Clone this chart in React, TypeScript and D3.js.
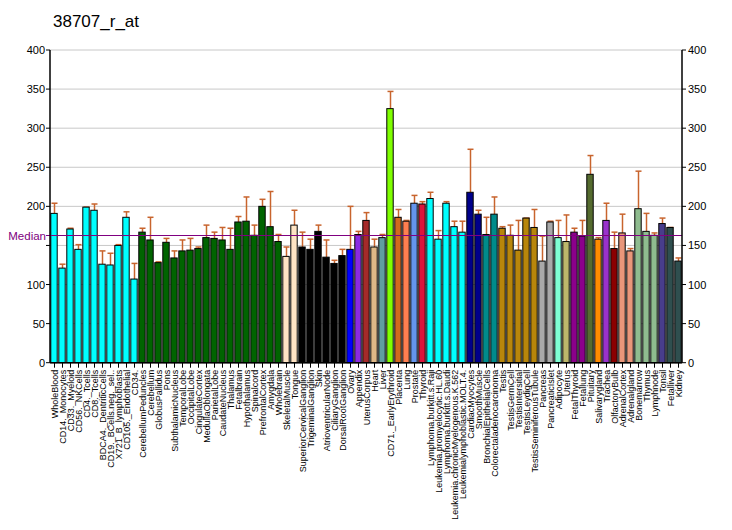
import React from "react";
import * as d3 from "d3";

const title = "38707_r_at";

const tissues = [
  "WholeBlood", "CD14._Monocytes", "CD33._Myeloid", "CD56._NKCells", "CD4._Tcells", "CD8._Tcells",
  "BDCA4._DentriticCells", "CD19._BCells.neg._sel..", "X721_B_lymphoblasts", "CD105._Endothelial", "CD34.",
  "CerebellumPeduncles", "Cerebellum", "GlobusPallidus", "Pons", "SubthalamicNucleus", "TemporalLobe",
  "OccipitalLobe", "CingulateCortex", "MedullaOblongata", "ParietalLobe", "CaudateNucleus", "Thalamus",
  "Fetalbrain", "Hypothalamus", "Spinalcord", "PrefrontalCortex", "Amygdala", "Wholebrain",
  "SkeletalMuscle", "Tongue", "SuperiorCervicalGanglion", "TrigeminalGanglion", "Skin",
  "AtrioventricularNode", "CiliaryGanglion", "DorsalRootGanglion", "Ovary", "Appendix", "UterusCorpus",
  "Heart", "Liver", "CD71._EarlyErythroid", "Placenta", "Lung", "Prostate", "Thyroid",
  "Lymphoma.burkitt.s.Raji", "Leukemia.promyelocytic.HL.60", "Lymphoma.burkitt.s.Daudi",
  "Leukemia.chronicMyelogenous.K.562", "Leukemialymphoblastic.MOLT.4.", "CardiacMyocytes", "SmoothMuscle",
  "BronchialEpithelialCells", "Colorectaladenocarcinoma", "Testis", "TestisGermCell", "TestisIntersitial",
  "TestisLeydigCell", "TestisSeminiferousTubule", "Pancreas", "PancreaticIslet", "Adipocyte", "Uterus",
  "FetalThyroid", "Fetallung", "Pituitary", "Salivarygland", "Trachea", "OlfactoryBulb", "AdrenalCortex",
  "Adrenalgland", "Bonemarrow", "Thymus", "Lymphnode", "Tonsil", "Fetalliver", "Kidney",
];

const values = [
  191, 121, 171, 145, 199, 195, 126, 125, 150, 186, 107,
  167, 157, 128, 154, 134, 143, 144, 146, 160, 159, 157, 145, 180, 181, 163, 200, 174, 155,
  136, 176, 148, 145, 168, 135, 127, 137, 145, 164, 182, 148, 160, 325, 186, 181, 204, 203,
  210, 158, 204, 174, 167, 218, 190, 164, 190, 172, 163, 144, 185, 173, 130, 180, 160, 155,
  167, 162, 241, 158, 182, 146, 166, 143, 197, 168, 163, 178, 173, 130,
];

const errTops = [
  204, 126, 172, 151, 199, 203, 143, 140, 151, 193, 127,
  172, 186, 129, 159, 143, 157, 159, 148, 176, 167, 173, 172, 187, 212, 176, 209, 219, 164,
  148, 195, 167, 158, 176, 157, 131, 145, 200, 168, 192, 158, 164, 347, 196, 182, 214, 206,
  218, 169, 206, 181, 181, 273, 195, 186, 212, 174, 176, 182, 185, 196, 162, 181, 182, 189,
  172, 182, 265, 160, 204, 167, 190, 146, 245, 191, 166, 185, 173, 134,
];

const colors = [
  ...Array(11).fill("#00FFFF"),
  ...Array(18).fill("#006400"),
  "#FFE4C4", "#FFE4C4",
  ...Array(6).fill("#000000"),
  "#0000FF", "#8A2BE2", "#A52A2A", "#DEB887", "#5F9EA0", "#7FFF00", "#D2691E", "#FF7F50", "#6495ED", "#DC143C",
  ...Array(5).fill("#00FFFF"),
  "#00008B", "#00008B", "#008B8B", "#008B8B",
  ...Array(5).fill("#B8860B"),
  "#A9A9A9", "#A9A9A9", "#7FFFD4", "#BDB76B", "#8B008B", "#8B008B", "#556B2F", "#FF8C00", "#9932CC",
  "#8B0000", "#E9967A", "#E9967A", "#8FBC8F", "#8FBC8F", "#8FBC8F", "#483D8B", "#2F4F4F", "#2F4F4F",
];

const yTicks = [0, 50, 100, 150, 200, 250, 300, 350, 400];
// left side hides the tick label that sits under the "Median" label
const leftHidden = [150];
const median = 162.7;

export default function App() {
  const width = 732;
  const height = 530;
  const left = 50;
  const right = 682;
  const top = 50;
  const bottom = 362.7;
  const font = "Arial, 'Liberation Sans', sans-serif";

  const x = d3.scaleBand<string>().domain(tissues).range([left, right]).paddingInner(0.2).paddingOuter(0.1);
  const y = d3.scaleLinear().domain([0, 400]).range([bottom, top]);

  return (
    <svg width={width} height={height} style={{ position: "absolute", left: 0, top: 0, background: "#fff" }}>
      <text x={53} y={27} fontFamily={font} fontSize={17} fill="#000">{title}</text>

      {/* grid */}
      {yTicks.map((t) => (
        <line key={"g" + t} x1={left} x2={right} y1={y(t)} y2={y(t)} stroke="#C8C8C8" strokeWidth={1} />
      ))}

      {/* bars */}
      {tissues.map((name, i) => {
        const bx = x(name)!;
        const bw = x.bandwidth();
        const cx = Math.round(bx + bw / 2) + 0.5;
        return (
          <g key={name}>
            <line x1={cx} x2={cx} y1={y(values[i])} y2={y(errTops[i])} stroke="#C8642D" strokeWidth={1.5} />
            <line x1={cx - 3} x2={cx + 3} y1={y(errTops[i])} y2={y(errTops[i])} stroke="#C8642D" strokeWidth={1.5} />
            <rect x={bx} y={y(values[i])} width={bw} height={bottom - y(values[i])} fill={colors[i]} stroke="#000" strokeWidth={1} />
          </g>
        );
      })}

      {/* median */}
      <line x1={46} x2={right} y1={y(median)} y2={y(median)} stroke="#800080" strokeWidth={1} />
      <text x={46} y={y(median) + 4} textAnchor="end" fontFamily={font} fontSize={11.5} fill="#800080">Median</text>

      {/* axes */}
      <line x1={left} x2={left} y1={top} y2={bottom} stroke="#000" strokeWidth={1.5} />
      <line x1={right} x2={right} y1={top} y2={bottom} stroke="#000" strokeWidth={1.5} />
      <line x1={left} x2={right} y1={bottom} y2={bottom} stroke="#000" strokeWidth={1.5} />
      {yTicks.map((t) => (
        <g key={"t" + t}>
          <line x1={left - 4} x2={left} y1={y(t)} y2={y(t)} stroke="#000" />
          {!leftHidden.includes(t) && (
            <text x={left - 5} y={y(t) + 4} textAnchor="end" fontFamily={font} fontSize={11}>{t}</text>
          )}
          <line x1={right} x2={right + 4} y1={y(t)} y2={y(t)} stroke="#000" />
          <text x={right + 6} y={y(t) + 4} textAnchor="start" fontFamily={font} fontSize={11}>{t}</text>
        </g>
      ))}

      {/* x ticks and labels */}
      {tissues.map((name) => {
        const cx = Math.round(x(name)! + x.bandwidth() / 2) + 0.5;
        return (
          <g key={"x" + name}>
            <line x1={cx} x2={cx} y1={bottom} y2={bottom + 5} stroke="#000" />
            <text
              transform={`translate(${cx + 3},${bottom + 7}) rotate(-90)`}
              textAnchor="end"
              fontFamily={font}
              fontSize={9}
            >
              {name}
            </text>
          </g>
        );
      })}
    </svg>
  );
}
